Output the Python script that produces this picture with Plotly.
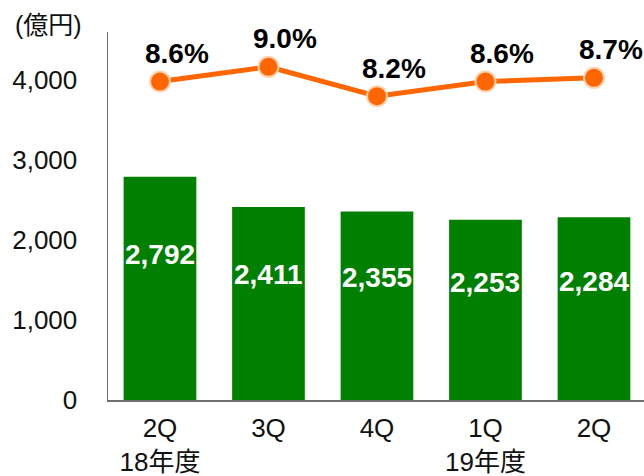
import plotly.graph_objects as go

categories = ["2Q<br>18年度", "3Q", "4Q", "1Q<br>19年度", "2Q"]
sales = [2792, 2411, 2355, 2253, 2284]
margin_pct = [8.6, 9.0, 8.2, 8.6, 8.7]
y_ticks = [0, 1000, 2000, 3000, 4000]
y_tick_labels = ["0", "1,000", "2,000", "3,000", "4,000"]
unit_label = "(億円)"

FONT = "Liberation Sans, Arial, Noto Sans CJK JP, sans-serif"
xs = list(range(len(categories)))

fig = go.Figure()
fig.add_trace(go.Bar(x=xs, y=sales, marker=dict(color="#008000", line=dict(width=0)),
                     width=0.67, hoverinfo="skip"))
fig.add_trace(go.Scatter(x=xs, y=margin_pct, yaxis="y2", mode="lines+markers",
                         line=dict(color="#FF6600", width=5),
                         marker=dict(size=20, color="#FF6600",
                                     line=dict(color="#FFD2B0", width=2)),
                         hoverinfo="skip", cliponaxis=False))

annotations = []
for i, v in enumerate(sales):
    annotations.append(dict(x=i, y=v * 0.65, xref="x", yref="y",
                            text=f"{v:,}", showarrow=False,
                            font=dict(family=FONT, size=28, color="white", weight="bold")))
for i, p in enumerate(margin_pct):
    annotations.append(dict(x=i, y=p, xref="x", yref="y2",
                            text=f"{p:.1f}%", showarrow=False, xshift=17, yshift=28,
                            font=dict(family=FONT, size=28, color="black", weight="bold")))
annotations.append(dict(x=-(108 - 13) / 536, y=1 + (32 - 25) / 368, xref="paper", yref="paper",
                        text=unit_label, showarrow=False, xanchor="left", yanchor="middle",
                        font=dict(family=FONT, size=25, color="#111")))

fig.update_layout(
    width=644, height=476,
    margin=dict(l=108, r=0, t=32, b=76),
    plot_bgcolor="white", paper_bgcolor="white",
    showlegend=False,
    font=dict(family=FONT, size=26, color="#111"),
    xaxis=dict(range=[-0.479, 4.461], tickmode="array", tickvals=xs, ticktext=categories,
               showline=True, linecolor="#6e6e6e", linewidth=1.5, showgrid=False,
               zeroline=False, ticks="", automargin=False, ticklabelstandoff=4,
               tickfont=dict(size=26, color="#111")),
    yaxis=dict(range=[0, 4600], tickmode="array", tickvals=y_ticks, ticktext=y_tick_labels,
               showline=True, linecolor="#6e6e6e", linewidth=1.5, showgrid=False,
               zeroline=False, ticks="", ticklabelstandoff=24, automargin=False,
               tickfont=dict(size=26, color="#111")),
    yaxis2=dict(range=[-0.08, 9.95], overlaying="y", side="right", visible=False),
    annotations=annotations,
)
fig.write_html("out.html", config={"displayModeBar": False, "staticPlot": True},
               post_script="document.body.style.margin='0';document.body.style.overflow='hidden';")
